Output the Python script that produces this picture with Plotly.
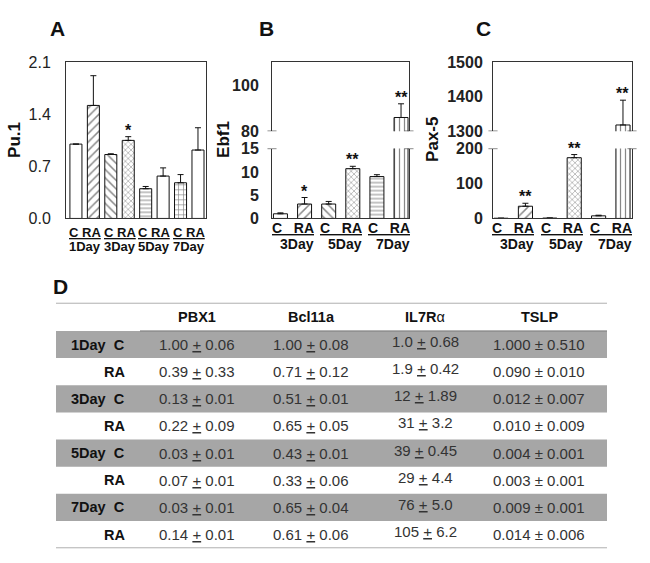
import plotly.graph_objects as go

W, H = 650, 563

# ---- data ----
days_a = ["1Day", "3Day", "5Day", "7Day"]
days_bc = ["3Day", "5Day", "7Day"]
groups = ["C", "RA"]

pu1_mean = [1.00, 1.52, 0.86, 1.05, 0.40, 0.57, 0.48, 0.92]
pu1_err = [0.00, 0.40, 0.01, 0.05, 0.03, 0.11, 0.11, 0.30]
pu1_sig = ["", "", "", "*", "", "", "", ""]

ebf1_mean = [1.0, 3.1, 3.1, 10.7, 9.0, 86.0]
ebf1_err = [0.2, 1.4, 0.55, 0.5, 0.4, 6.0]
ebf1_sig = ["", "*", "", "**", "", "**"]

pax5_mean = [0.5, 35.0, 1.0, 174.0, 7.5, 1318.0]
pax5_err = [0.2, 8.5, 0.3, 9.0, 1.8, 72.0]
pax5_sig = ["", "**", "", "**", "", "**"]

table_cols = ["PBX1", "Bcl11a", "IL7R\u03b1", "TSLP"]
row_labels = ["1Day\u00a0\u00a0C", "RA", "3Day\u00a0\u00a0C", "RA",
              "5Day\u00a0\u00a0C", "RA", "7Day\u00a0\u00a0C", "RA"]
pbx1 = ["1.00 + 0.06", "0.39 + 0.33", "0.13 + 0.01", "0.22 + 0.09",
        "0.03 + 0.01", "0.07 + 0.01", "0.03 + 0.01", "0.14 + 0.01"]
bcl11a = ["1.00 + 0.08", "0.71 + 0.12", "0.51 + 0.01", "0.65 + 0.05",
          "0.43 + 0.01", "0.33 + 0.06", "0.65 + 0.04", "0.61 + 0.06"]
il7ra = ["1.0 + 0.68", "1.9 + 0.42", "12 + 1.89", "31 + 3.2",
         "39 + 0.45", "29 + 4.4", "76 + 5.0", "105 + 6.2"]
tslp = ["1.000 \u00b1 0.510", "0.090 \u00b1 0.010", "0.012 \u00b1 0.007", "0.010 \u00b1 0.009",
        "0.004 \u00b1 0.001", "0.003 \u00b1 0.001", "0.009 \u00b1 0.001", "0.014 \u00b1 0.006"]

# ---- styling ----
FONT = "Liberation Sans, Arial, sans-serif"
pat_size = {"": 5, "/": 6, "\\": 6, "x": 4, "-": 4, "+": 5, "|": 5}
shapes_a = ["", "/", "\\", "x", "-", "", "+", ""]
shapes_bc = ["", "/", "\\", "x", "-", "|"]
shapes_c = ["", "/", "", "x", "", "|"]


def px(x):
    return x / W


def py(y):
    return 1 - y / H


def bars(vals, errs, pats, xa, ya, width):
    return go.Bar(
        x=list(range(len(vals))), y=vals, width=width, xaxis=xa, yaxis=ya,
        marker=dict(color="white", line=dict(color="#111", width=1),
                    pattern=dict(shape=pats, fgcolor="#111", bgcolor="white",
                                 size=[pat_size[p] for p in pats], solidity=0.25)),
        error_y=dict(type="data", symmetric=False, array=errs,
                     arrayminus=[0] * len(errs), color="#111", thickness=1, width=3),
        showlegend=False, hoverinfo="skip")


fig = go.Figure()
fig.add_trace(bars(pu1_mean, pu1_err, shapes_a, "x", "y", 0.69))
fig.add_trace(bars(ebf1_mean, ebf1_err, shapes_bc, "x2", "y2", 0.58))
fig.add_trace(bars(ebf1_mean, ebf1_err, shapes_bc, "x3", "y3", 0.58))
fig.add_trace(bars(pax5_mean, pax5_err, shapes_c, "x4", "y4", 0.58))
fig.add_trace(bars(pax5_mean, pax5_err, shapes_c, "x5", "y5", 0.58))

line = dict(showline=True, linecolor="#333", linewidth=1)
noax = dict(showgrid=False, zeroline=False, showticklabels=False, ticks="")
tick_reg = dict(family=FONT, size=16, color="#222")
tick_bold = dict(family=FONT, size=16, color="#222", weight="bold")

fig.update_layout(
    width=W, height=H, margin=dict(l=0, r=0, t=0, b=0),
    paper_bgcolor="white", plot_bgcolor="rgba(0,0,0,0)",
    font=dict(family=FONT, color="#111"),
    # panel A
    xaxis=dict(domain=[px(66), px(206)], range=[-0.57, 7.46], anchor="y", mirror=True, **line, **noax),
    yaxis=dict(domain=[py(217), py(56)], range=[0, 2.1], anchor="x", mirror=True,
               tickvals=[0, 0.7, 1.4, 2.1], ticktext=["0.0", "0.7", "1.4", "2.1"],
               tickfont=tick_reg, ticks="", ticklabelstandoff=11,
               showgrid=False, zeroline=False, **line),
    # panel B (upper / lower)
    xaxis2=dict(domain=[px(272), px(409)], range=[-0.35, 5.33], anchor="y2", side="top", **line, **noax),
    yaxis2=dict(domain=[py(127), py(56)], range=[80, 110.2], anchor="x2", mirror=True,
                tickvals=[80, 100], tickfont=tick_bold, ticks="", ticklabelstandoff=9,
                showgrid=False, zeroline=False, **line),
    xaxis3=dict(domain=[px(272), px(409)], range=[-0.35, 5.33], anchor="y3", **line, **noax),
    yaxis3=dict(domain=[py(217), py(145)], range=[0, 15], anchor="x3", mirror=True,
                tickvals=[0, 5, 10, 15], tickfont=tick_bold, ticks="", ticklabelstandoff=9,
                showgrid=False, zeroline=False, **line),
    # panel C (upper / lower)
    xaxis4=dict(domain=[px(493), px(632)], range=[-0.33, 5.37], anchor="y4", side="top", **line, **noax),
    yaxis4=dict(domain=[py(127), py(56)], range=[1300, 1500], anchor="x4", mirror=True,
                tickvals=[1300, 1400, 1500], tickfont=tick_bold, ticks="", ticklabelstandoff=6,
                showgrid=False, zeroline=False, **line),
    xaxis5=dict(domain=[px(493), px(632)], range=[-0.33, 5.37], anchor="y5", **line, **noax),
    yaxis5=dict(domain=[py(217), py(145)], range=[0, 200], anchor="x5", mirror=True,
                tickvals=[0, 100, 200], tickfont=tick_bold, ticks="", ticklabelstandoff=6,
                showgrid=False, zeroline=False, **line),
    # table D
    xaxis6=dict(domain=[px(56), px(607)], range=[-0.2368, 4.5965], anchor="y6", visible=False),
    yaxis6=dict(domain=[py(557), py(304)], range=[7.5, -1.536], anchor="x6", visible=False),
)

ann = []
shp = []


def label(x, y, text, size=14, bold=True, color="#111", **kw):
    t = "<b>%s</b>" % text if bold else text
    d = dict(x=x, y=y, text=t, showarrow=False, xanchor="center", yanchor="middle",
             font=dict(family=FONT, size=size, color=color))
    d.update(kw)
    ann.append(d)


# panel letters and axis titles
for letter, xp, yp in [("A", 58, 21), ("B", 266, 21), ("C", 484, 21), ("D", 60, 287)]:
    label(px(xp), py(yp), letter, size=21, xref="paper", yref="paper")
for title, xp in [("Pu.1", 15), ("Ebf1", 224), ("Pax-5", 433)]:
    label(px(xp), py(136), title, size=17, xref="paper", yref="paper", textangle=-90)

# category labels under the bars
for i, d in enumerate(days_a):
    label(2 * i + 0.5, py(231), "<u>" + " ".join(groups) + "</u>", size=13, xref="x", yref="paper")
    label(2 * i + 0.5, py(246), d, size=13, xref="x", yref="paper")
for xa in ["x3", "x5"]:
    for i, d in enumerate(days_bc):
        label(2 * i + 0.5, py(227), "<u>" + "\u00a0\u00a0\u00a0".join(groups) + "</u>",
              xref=xa, yref="paper")
        label(2 * i + 0.5, py(243), d, xref=xa, yref="paper", xshift=4)

# significance stars
for i, s in enumerate(pu1_sig):
    if s:
        label(i, pu1_mean[i] + pu1_err[i], s, size=16, xref="x", yref="y", yanchor="bottom", yshift=-4)
for sig, m, e, lo, up, top in [(ebf1_sig, ebf1_mean, ebf1_err, ("x3", "y3"), ("x2", "y2"), 15),
                               (pax5_sig, pax5_mean, pax5_err, ("x5", "y5"), ("x4", "y4"), 200)]:
    for i, s in enumerate(sig):
        if s:
            ax = up if m[i] > top else lo
            label(i, m[i] + e[i], s, size=16, xref=ax[0], yref=ax[1], yanchor="bottom", yshift=-4)

# axis break marks
for xa, ya, yv in [("x2", "y2", 80), ("x3", "y3", 15), ("x4", "y4", 1300), ("x5", "y5", 200)]:
    for xe in (0, 1):
        shp.append(dict(type="line", xref=xa + " domain", yref=ya, x0=xe - 0.033, x1=xe + 0.033,
                        y0=yv, y1=yv, line=dict(color="#333", width=1)))

# table
for i in range(len(row_labels)):
    if i % 2 == 0:
        shp.append(dict(type="rect", xref="x6 domain", yref="y6", x0=0, x1=1, y0=i - 0.5, y1=i + 0.5,
                        fillcolor="#a6a6a6", line=dict(width=0), layer="below"))
shp.append(dict(type="line", xref="x6 domain", yref="y6", x0=0, x1=1, y0=-1.536, y1=-1.536,
                line=dict(color="#8c8c8c", width=1.2)))
shp.append(dict(type="line", xref="x6 domain", yref="y6", x0=0, x1=1, y0=7.5, y1=7.5,
                line=dict(color="#8c8c8c", width=1.2)))
shp.append(dict(type="line", xref="x6", yref="y6", x0=0.5, x1=4.5965, y0=-0.5, y1=-0.5,
                line=dict(color="#777", width=1)))

for j, c in enumerate(table_cols):
    label(j + 1, -1, c.replace("\u03b1", "</b>\u03b1<b>"), size=14.5, xref="x6", yref="y6")
for i, r in enumerate(row_labels):
    label(0.39, i, r, size=14.5, xref="x6", yref="y6", xanchor="right")
for j, col in enumerate([pbx1, bcl11a, il7ra, tslp]):
    for i, v in enumerate(col):
        txt = v.replace(" + ", " <u>+</u> ")
        label(j + 1, i, txt, size=15, bold=False, color="#333",
              xref="x6", yref="y6", yshift=3 if j == 2 else 0)

fig.update_layout(annotations=ann, shapes=shp)
fig.write_html("out.html", config={"displayModeBar": False},
               post_script="document.body.style.margin='0';")
